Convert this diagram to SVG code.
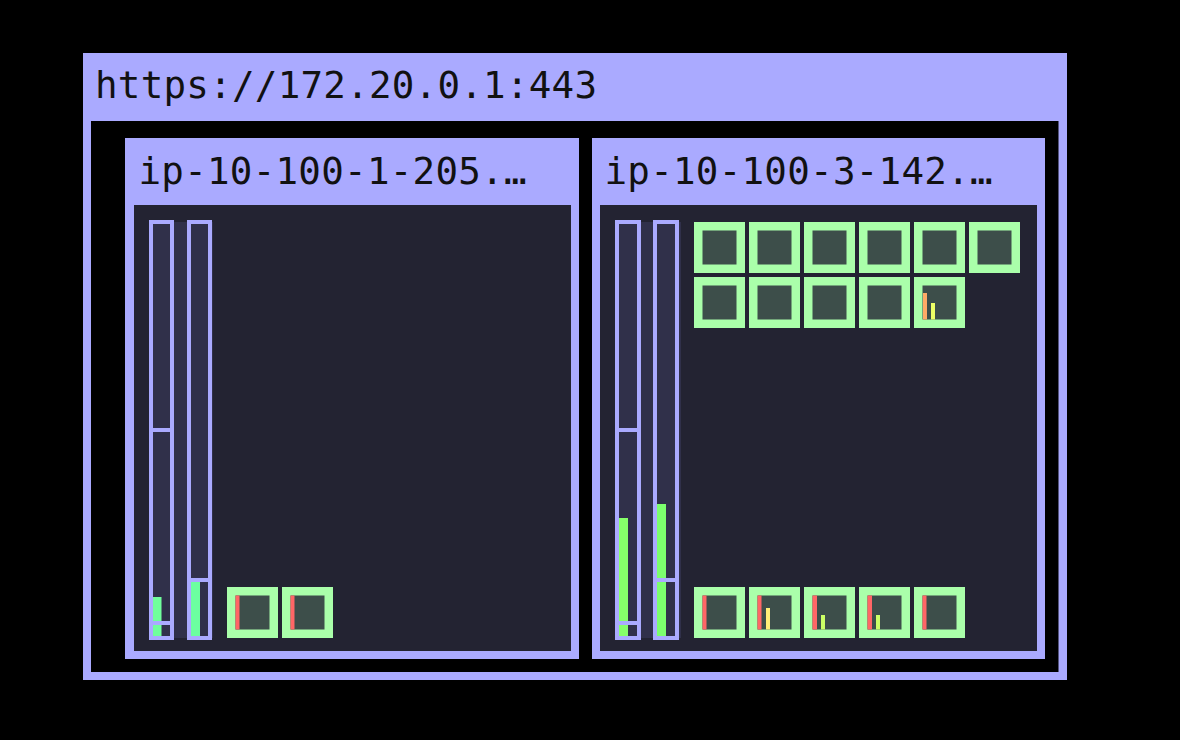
<svg xmlns="http://www.w3.org/2000/svg" width="1180" height="740" viewBox="0 0 1180 740">
  <style>
    .frame { fill: #aaaaff; }
    .hole { fill: #000000; }
    .body { fill: #232332; }
    .lbl { font-family: "DejaVu Sans Mono", "Liberation Mono", monospace; font-size: 37.5px; fill: #111111; }
    .gbg { fill: #30304a; }
    .bar { fill: #30304a; stroke: #aaaaff; stroke-width: 4; }
    .div { stroke: #aaaaff; stroke-width: 4; }
    .podo { fill: #aaffaa; }
    .podi { fill: #3d4e4a; }
    .red { fill: #ff6666; }
  </style>
  <defs>
    <g id="pod">
      <rect class="podo" x="0" y="0" width="51" height="51"/>
      <rect class="podi" x="8.5" y="8.5" width="34" height="34"/>
    </g>
  </defs>

  <rect x="0" y="0" width="1180" height="740" fill="#000000"/>

  <!-- cluster -->
  <g id="cluster">
    <rect class="frame" x="83" y="53" width="984" height="627"/>
    <rect class="hole" x="91" y="121" width="967.5" height="551"/>
    <text class="lbl" x="95" y="97.5" textLength="502">https://172.20.0.1:443</text>
  </g>

  <!-- node 1 -->
  <g id="node-1">
    <rect class="frame" x="125" y="138" width="454" height="521"/>
    <rect class="body" x="134" y="205" width="437" height="446"/>
    <text class="lbl" x="138.5" y="183.5" textLength="388">ip-10-100-1-205.…</text>
    <g class="gauges">
      <rect class="gbg" x="151" y="222" width="62" height="416"/>
      <rect class="bar" x="151" y="222" width="21" height="416"/>
      <rect x="153" y="597" width="8.5" height="39" fill="#70ff9c"/>
      <line class="div" x1="151" y1="430" x2="172" y2="430"/>
      <line class="div" x1="151" y1="623" x2="172" y2="623"/>
      <rect class="bar" x="189" y="222" width="21" height="416"/>
      <rect x="191" y="582" width="9" height="54" fill="#6cffa0"/>
      <line class="div" x1="189" y1="580" x2="210" y2="580"/>
    </g>
    <g class="pods">
      <g id="pod-1-1"><use href="#pod" x="227" y="587"/><rect class="red" x="235.5" y="595.5" width="4" height="34"/></g>
      <g id="pod-1-2"><use href="#pod" x="282" y="587"/><rect class="red" x="290.5" y="595.5" width="4" height="34"/></g>
    </g>
  </g>

  <!-- node 2 -->
  <g id="node-2">
    <rect class="frame" x="592" y="138" width="453" height="521"/>
    <rect class="body" x="600" y="205" width="437" height="446"/>
    <text class="lbl" x="604.5" y="183.5" textLength="388">ip-10-100-3-142.…</text>
    <g class="gauges">
      <rect class="gbg" x="617" y="222" width="64" height="416"/>
      <rect class="bar" x="617" y="222" width="22" height="416"/>
      <rect x="619" y="518" width="9" height="118" fill="#86ff6a"/>
      <line class="div" x1="617" y1="430" x2="639" y2="430"/>
      <line class="div" x1="617" y1="623" x2="639" y2="623"/>
      <rect class="bar" x="655" y="222" width="22" height="416"/>
      <rect x="657" y="504" width="9" height="132" fill="#7cff6e"/>
      <line class="div" x1="655" y1="580" x2="677" y2="580"/>
    </g>
    <g class="pods">
      <use id="pod-2-1" href="#pod" x="694" y="222"/>
      <use id="pod-2-2" href="#pod" x="749" y="222"/>
      <use id="pod-2-3" href="#pod" x="804" y="222"/>
      <use id="pod-2-4" href="#pod" x="859" y="222"/>
      <use id="pod-2-5" href="#pod" x="914" y="222"/>
      <use id="pod-2-6" href="#pod" x="969" y="222"/>
      <use id="pod-2-7" href="#pod" x="694" y="277"/>
      <use id="pod-2-8" href="#pod" x="749" y="277"/>
      <use id="pod-2-9" href="#pod" x="804" y="277"/>
      <use id="pod-2-10" href="#pod" x="859" y="277"/>
      <g id="pod-2-11">
        <use href="#pod" x="914" y="277"/>
        <rect x="923" y="293" width="4" height="26.5" fill="#ffaa66"/>
        <rect x="931" y="303" width="4" height="16.5" fill="#eeff66"/>
      </g>
      <g id="pod-2-12"><use href="#pod" x="694" y="587"/><rect class="red" x="702.5" y="595.5" width="4" height="34"/></g>
      <g id="pod-2-13">
        <use href="#pod" x="749" y="587"/>
        <rect class="red" x="757.5" y="595.5" width="4" height="34"/>
        <rect x="766" y="608" width="4" height="21.5" fill="#ffee77"/>
      </g>
      <g id="pod-2-14">
        <use href="#pod" x="804" y="587"/>
        <rect class="red" x="812.5" y="595.5" width="4.5" height="34"/>
        <rect x="821" y="615" width="4" height="14.5" fill="#ccff66"/>
      </g>
      <g id="pod-2-15">
        <use href="#pod" x="859" y="587"/>
        <rect class="red" x="867.5" y="595.5" width="4.5" height="34"/>
        <rect x="876" y="615" width="4" height="14.5" fill="#ccff66"/>
      </g>
      <g id="pod-2-16"><use href="#pod" x="914" y="587"/><rect class="red" x="922.5" y="595.5" width="4" height="34"/></g>
    </g>
  </g>
</svg>
